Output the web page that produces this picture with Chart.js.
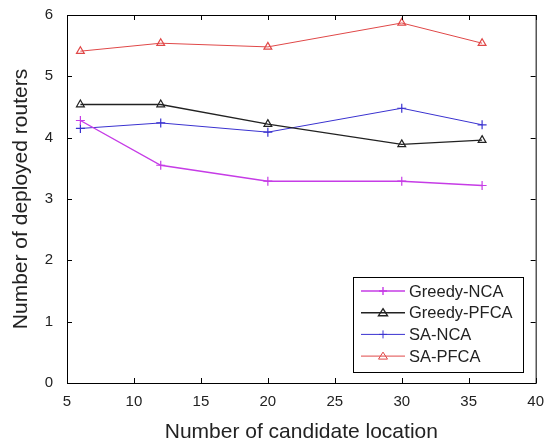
<!DOCTYPE html>
<html>
<head>
<meta charset="utf-8">
<script src="https://cdn.jsdelivr.net/npm/chart.js@4.4.0/dist/chart.umd.min.js"></script>
<style>
  html, body { margin: 0; padding: 0; background: #fff; }
  #wrap { width: 546px; height: 443px; }
</style>
</head>
<body>
<div id="wrap"><canvas id="myChart" width="546" height="443"></canvas></div>
<script>
// x values (number of candidate locations)
const candidates = [6, 12, 20, 30, 36];

// series
const greedyNCA = [4.28, 3.55, 3.29, 3.29, 3.22];
const greedyPFCA = [4.54, 4.54, 4.22, 3.89, 3.96];
const saNCA = [4.15, 4.24, 4.09, 4.48, 4.21];
const saPFCA = [5.41, 5.54, 5.48, 5.87, 5.54];

const xTicks = [5, 10, 15, 20, 25, 30, 35, 40];
const yTicks = [0, 1, 2, 3, 4, 5, 6];

const FONT = '"Liberation Sans", Arial, sans-serif';

const toPoints = (ys) => candidates.map((x, i) => ({x: x, y: ys[i]}));

// series styles
const series = [
  {label: 'Greedy-NCA', data: greedyNCA, color: '#c63ce6', style: 'cross', width: 1.4},
  {label: 'Greedy-PFCA', data: greedyPFCA, color: '#222222', style: 'triangle', width: 1.4},
  {label: 'SA-NCA', data: saNCA, color: '#3a32d0', style: 'cross', width: 1},
  {label: 'SA-PFCA', data: saPFCA, color: '#e04848', style: 'triangle', width: 1}
];

// frame, inward ticks on all four sides, and legend box inside the plot
const framePlugin = {
  id: 'frame',
  afterDraw(chart) {
    const ctx = chart.ctx;
    const a = chart.chartArea;
    const xs = chart.scales.x, ys = chart.scales.y;
    ctx.save();
    ctx.strokeStyle = '#000';
    ctx.lineWidth = 1;
    ctx.strokeRect(a.left + 0.5, a.top + 0.5, a.right - a.left, a.bottom - a.top);
    ctx.beginPath();
    xTicks.forEach(v => {
      const px = Math.round(xs.getPixelForValue(v)) + 0.5;
      ctx.moveTo(px, a.bottom); ctx.lineTo(px, a.bottom - 5);
      ctx.moveTo(px, a.top); ctx.lineTo(px, a.top + 5);
    });
    yTicks.forEach(v => {
      const py = Math.round(ys.getPixelForValue(v)) + 0.5;
      ctx.moveTo(a.left, py); ctx.lineTo(a.left + 5, py);
      ctx.moveTo(a.right, py); ctx.lineTo(a.right - 5, py);
    });
    ctx.stroke();

    // legend
    const bx = 353, by = 277, bw = 170, bh = 95;
    ctx.fillStyle = '#fff';
    ctx.fillRect(bx, by, bw, bh);
    ctx.strokeStyle = '#000';
    ctx.strokeRect(bx + 0.5, by + 0.5, bw, bh);
    ctx.font = '16.5px ' + FONT;
    ctx.textBaseline = 'middle';
    series.forEach((s, i) => {
      const y = by + 14 + i * 21.7;
      ctx.strokeStyle = s.color;
      ctx.lineWidth = s.width;
      ctx.beginPath();
      ctx.moveTo(bx + 8, y); ctx.lineTo(bx + 52, y);
      ctx.stroke();
      const mx = bx + 30;
      ctx.beginPath();
      if (s.style === 'cross') {
        ctx.moveTo(mx - 4, y); ctx.lineTo(mx + 4, y);
        ctx.moveTo(mx, y - 4); ctx.lineTo(mx, y + 4);
      } else {
        ctx.moveTo(mx, y - 4); ctx.lineTo(mx + 4.5, y + 3); ctx.lineTo(mx - 4.5, y + 3); ctx.closePath();
      }
      ctx.stroke();
      ctx.fillStyle = '#222';
      ctx.fillText(s.label, bx + 56, y + 1);
    });
    ctx.restore();
  }
};

const ctx = document.getElementById('myChart').getContext('2d');
const chart = new Chart(ctx, {
  type: 'line',
  data: {
    datasets: series.map(s => ({
      label: s.label,
      data: toPoints(s.data),
      borderColor: s.color,
      backgroundColor: 'rgba(0,0,0,0)',
      borderWidth: s.width,
      pointStyle: s.style,
      pointRadius: 4.5,
      pointBorderColor: s.color,
      pointBackgroundColor: 'rgba(0,0,0,0)',
      pointBorderWidth: 1.2,
      tension: 0
    }))
  },
  options: {
    responsive: false,
    animation: false,
    layout: {padding: {top: 14, right: 9, left: 0, bottom: 0}},
    plugins: {legend: {display: false}, tooltip: {enabled: false}},
    scales: {
      x: {
        type: 'linear',
        min: 5, max: 40,
        afterBuildTicks: (scale) => { scale.ticks = xTicks.map(v => ({value: v})); },
        afterFit: (scale) => { scale.height = 60; },
        grid: {display: false},
        border: {display: false},
        ticks: {color: '#222', padding: 2, font: {size: 15, family: FONT}},
        title: {display: true, text: 'Number of candidate location', color: '#222', padding: {top: 0, bottom: 0},
          font: {size: 21, family: FONT, lineHeight: 1}}
      },
      y: {
        min: 0, max: 6,
        afterBuildTicks: (scale) => { scale.ticks = yTicks.map(v => ({value: v})); },
        afterFit: (scale) => { scale.width = 67; },
        grid: {display: false},
        border: {display: false},
        ticks: {color: '#222', padding: 6, font: {size: 15, family: FONT}},
        title: {display: true, text: 'Number of deployed routers', color: '#222', padding: {top: 11, bottom: 0},
          font: {size: 21, family: FONT, lineHeight: 1}}
      }
    }
  },
  plugins: [framePlugin]
});
</script>
</body>
</html>
